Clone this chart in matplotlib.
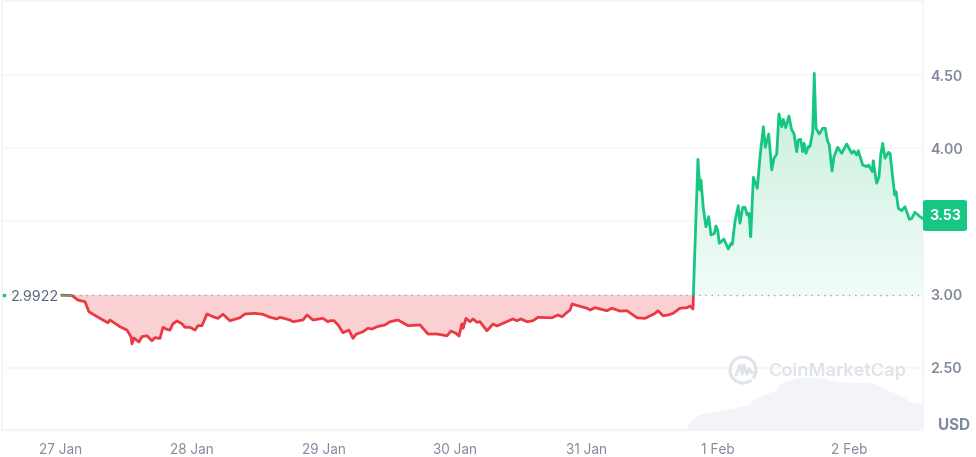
import numpy as np
import matplotlib
matplotlib.use('Agg')
import matplotlib.pyplot as plt
from matplotlib.colors import LinearSegmentedColormap
from matplotlib.patches import Arc, FancyBboxPatch
from matplotlib.lines import Line2D

plt.rcParams['font.family'] = ['Inter', 'DejaVu Sans']

# price, x is days since 27 Jan
red_days = [0.008, 0.084, 0.129, 0.183, 0.213, 0.297, 0.358, 0.373, 0.449, 0.503, 0.533, 0.541, 0.556, 0.594,
            0.617, 0.655, 0.693, 0.716, 0.754, 0.777, 0.807, 0.830, 0.853, 0.883, 0.922, 0.944, 0.982, 1.021,
            1.043, 1.074, 1.112, 1.158, 1.196, 1.234, 1.287, 1.363, 1.401, 1.477, 1.538, 1.592, 1.645, 1.668,
            1.744, 1.767, 1.843, 1.874, 1.919, 1.995, 2.033, 2.049, 2.079, 2.110, 2.148, 2.193, 2.224, 2.247,
            2.300, 2.338, 2.369, 2.407, 2.468, 2.506, 2.567, 2.643, 2.734, 2.757, 2.795, 2.864, 2.940, 2.970,
            3.008, 3.031, 3.054, 3.062, 3.085, 3.115, 3.138, 3.168, 3.191, 3.244, 3.290, 3.321, 3.366, 3.442,
            3.473, 3.503, 3.549, 3.595, 3.633, 3.739, 3.785, 3.816, 3.854, 3.877, 3.892, 4.006, 4.029, 4.067,
            4.158, 4.196, 4.257, 4.311, 4.387, 4.448, 4.524, 4.547, 4.585, 4.623, 4.661, 4.714, 4.768, 4.791,
            4.813, 4.817]
red_price = [2.995, 2.993, 2.962, 2.951, 2.882, 2.837, 2.807, 2.826, 2.780, 2.757, 2.712, 2.662, 2.703, 2.675,
             2.712, 2.718, 2.684, 2.705, 2.700, 2.776, 2.762, 2.757, 2.800, 2.819, 2.800, 2.776, 2.776, 2.757,
             2.787, 2.787, 2.867, 2.848, 2.837, 2.865, 2.821, 2.841, 2.867, 2.871, 2.865, 2.844, 2.833, 2.844,
             2.826, 2.814, 2.826, 2.860, 2.826, 2.837, 2.814, 2.821, 2.821, 2.792, 2.739, 2.757, 2.700, 2.728,
             2.746, 2.769, 2.764, 2.780, 2.792, 2.814, 2.826, 2.787, 2.792, 2.769, 2.730, 2.730, 2.718, 2.750,
             2.735, 2.716, 2.800, 2.769, 2.837, 2.814, 2.833, 2.810, 2.814, 2.752, 2.798, 2.785, 2.803, 2.833,
             2.821, 2.833, 2.814, 2.821, 2.844, 2.841, 2.860, 2.848, 2.878, 2.894, 2.935, 2.906, 2.894, 2.910,
             2.889, 2.906, 2.887, 2.889, 2.841, 2.837, 2.871, 2.889, 2.855, 2.860, 2.871, 2.906, 2.910, 2.921,
             2.901, 3.000]

green_days = [4.816, 4.851, 4.867, 4.874, 4.892, 4.912, 4.933, 4.950, 4.976, 4.988, 5.001, 5.014, 5.049, 5.082,
              5.103, 5.113, 5.133, 5.158, 5.171, 5.192, 5.209, 5.227, 5.240, 5.253, 5.273, 5.303, 5.324, 5.349,
              5.364, 5.390, 5.413, 5.430, 5.451, 5.468, 5.489, 5.501, 5.519, 5.544, 5.565, 5.582, 5.603, 5.615,
              5.633, 5.649, 5.659, 5.674, 5.691, 5.704, 5.725, 5.737, 5.750, 5.775, 5.801, 5.821, 5.836, 5.851,
              5.872, 5.887, 5.915, 5.946, 5.984, 6.022, 6.039, 6.060, 6.072, 6.106, 6.136, 6.151, 6.179, 6.186,
              6.212, 6.230, 6.243, 6.258, 6.276, 6.301, 6.314, 6.335, 6.350, 6.360, 6.377, 6.403, 6.428, 6.461,
              6.479, 6.504, 6.542, 6.563]
green_price = [2.997, 3.924, 3.714, 3.782, 3.589, 3.463, 3.532, 3.407, 3.418, 3.468, 3.441, 3.350, 3.379, 3.311,
               3.350, 3.343, 3.498, 3.607, 3.487, 3.596, 3.596, 3.543, 3.555, 3.395, 3.801, 3.726, 3.942, 4.147,
               4.006, 4.097, 3.851, 3.931, 3.960, 4.234, 4.147, 4.197, 4.140, 4.220, 4.124, 4.102, 3.976, 4.056,
               4.061, 3.976, 4.033, 3.965, 4.010, 4.010, 4.113, 4.512, 4.136, 4.097, 4.136, 4.136, 4.056, 4.022,
               3.844, 3.942, 4.006, 3.965, 4.029, 3.965, 3.981, 3.953, 3.983, 3.885, 3.874, 3.885, 3.840, 3.914,
               3.760, 3.805, 3.953, 4.033, 3.931, 3.972, 3.965, 3.794, 3.680, 3.703, 3.589, 3.573, 3.600, 3.514,
               3.520, 3.562, 3.532, 3.520]

# volume strip at the bottom, arbitrary units
vol_days = [-0.44, 4.76, 4.80, 4.85, 4.90, 5.00, 5.13, 5.23, 5.30, 5.45, 5.48, 5.63, 5.81, 5.91, 6.19, 6.29, 6.39,
            6.47, 6.565]
vol = [1, 1, 10, 15, 17, 19, 22, 25, 33, 40, 47, 53, 52, 48, 47, 40, 35, 28, 26]

base_price = 3.0
open_label = '2.9922'
last_label = '3.53'
y_ticks = [2.5, 3.0, 3.5, 4.0, 4.5]
y_labels = ['2.50', '3.00', '', '4.00', '4.50']
x_ticks = [0, 1, 2, 3, 4, 5, 6]
x_labels = ['27 Jan', '28 Jan', '29 Jan', '30 Jan', '31 Jan', '1 Feb', '2 Feb']

red = '#ea3943'
green = '#16c784'
W, H = 976, 457

fig = plt.figure(figsize=(W / 100, H / 100), dpi=100, facecolor='white')
rect = [2 / W, 1 - 430 / H, 921 / W, 429 / H]

ax_vol = fig.add_axes(rect)
ax_vol.fill_between(vol_days, vol, 0, color='#f2f4f8', lw=0)
ax_vol.set_xlim(-0.449, 6.565)
ax_vol.set_ylim(0, 429)
ax_vol.axis('off')

ax = fig.add_axes(rect)
ax.patch.set_visible(False)
xlim = (-0.449, 6.565)
ylim = (2.074, 5.006)

for s in ax.spines.values():
    s.set_color('#f3f4f7')
    s.set_linewidth(1.2)
ax.grid(axis='y', color='#f5f6f9', lw=1.1)
ax.set_axisbelow(True)

# red area under the base line
ax.fill_between(red_days, red_price, base_price, color='#fbd0d3', lw=0, zorder=1)

# green area with a fade towards the base line
fill = ax.fill_between(green_days, green_price, base_price, facecolor='none', lw=0)
cmap = LinearSegmentedColormap.from_list('fade', ['#f2fcf8', '#c4eedb'])
grad = np.linspace(1, 0, 256).reshape(-1, 1)
im = ax.imshow(grad, extent=[xlim[0], xlim[1], base_price, 4.5], aspect='auto', cmap=cmap, zorder=1)
im.set_clip_path(fill.get_paths()[0], transform=ax.transData)

ax.plot([0.0, 6.56], [base_price, base_price], color='#9aa3b5', lw=1, ls=(0, (1, 3.5)), zorder=2)

ax.plot(red_days, red_price, color=red, lw=2, zorder=3, solid_joinstyle='round')
ax.plot(green_days, green_price, color=green, lw=2, zorder=4, solid_joinstyle='round')
ax.plot([0.0, 0.08], [base_price, base_price], color=green, lw=1, zorder=3)

ax.set_xlim(*xlim)
ax.set_ylim(*ylim)
ax.yaxis.tick_right()
ax.set_yticks(y_ticks, y_labels)
ax.set_xticks(x_ticks, x_labels)
ax.tick_params(axis='y', length=0, pad=5, labelsize=10.2, labelcolor='#808a9d')
ax.tick_params(axis='x', length=0, pad=9, labelsize=9.8, labelcolor='#808a9d')
for lab in ax.get_yticklabels():
    lab.set_fontweight('semibold')

# open price on the left, badge and unit on the right
ax.text(-0.378, 2.982, open_label, fontsize=10.3, color='#58667e', ha='left', va='center')
ax.plot([-0.435], [base_price], marker='s', ms=2, color=green, zorder=5, clip_on=False)

badge = FancyBboxPatch((923 / W, 1 - 231 / H), 44 / W, 31 / H, transform=fig.transFigure,
                       boxstyle='round,pad=0,rounding_size=0.004', fc=green, ec='none', zorder=6)
fig.add_artist(badge)
fig.text(945 / W, 1 - 216 / H, last_label, color='white', fontsize=10.2, fontweight='bold',
         ha='center', va='center', zorder=7)
fig.text(970 / W, 1 - 425 / H, 'USD', color='#808a9d', fontsize=11, fontweight='bold', ha='right', va='center')

# watermark
wm = '#dfe3ea'
fig.text(768 / W, 1 - 371 / H, 'CoinMarketCap', color=wm, fontsize=13.2, fontweight='semibold',
         ha='left', va='center')
logo_ax = fig.add_axes([728 / W, 1 - 385 / H, 30 / W, 30 / H])
logo_ax.set_xlim(-15, 15)
logo_ax.set_ylim(-15, 15)
logo_ax.axis('off')
logo_ax.add_patch(Arc((0, 0), 26, 26, theta1=-40, theta2=310, color=wm, lw=2.2))
logo_ax.add_line(Line2D([-7, -3, -1, 1, 4, 6, 9, 13], [-5, 5, -4, 5, -4, 1, -3, -2], color=wm, lw=2.2,
                        solid_joinstyle='round', solid_capstyle='round'))

fig.savefig('out.png', dpi=100)
